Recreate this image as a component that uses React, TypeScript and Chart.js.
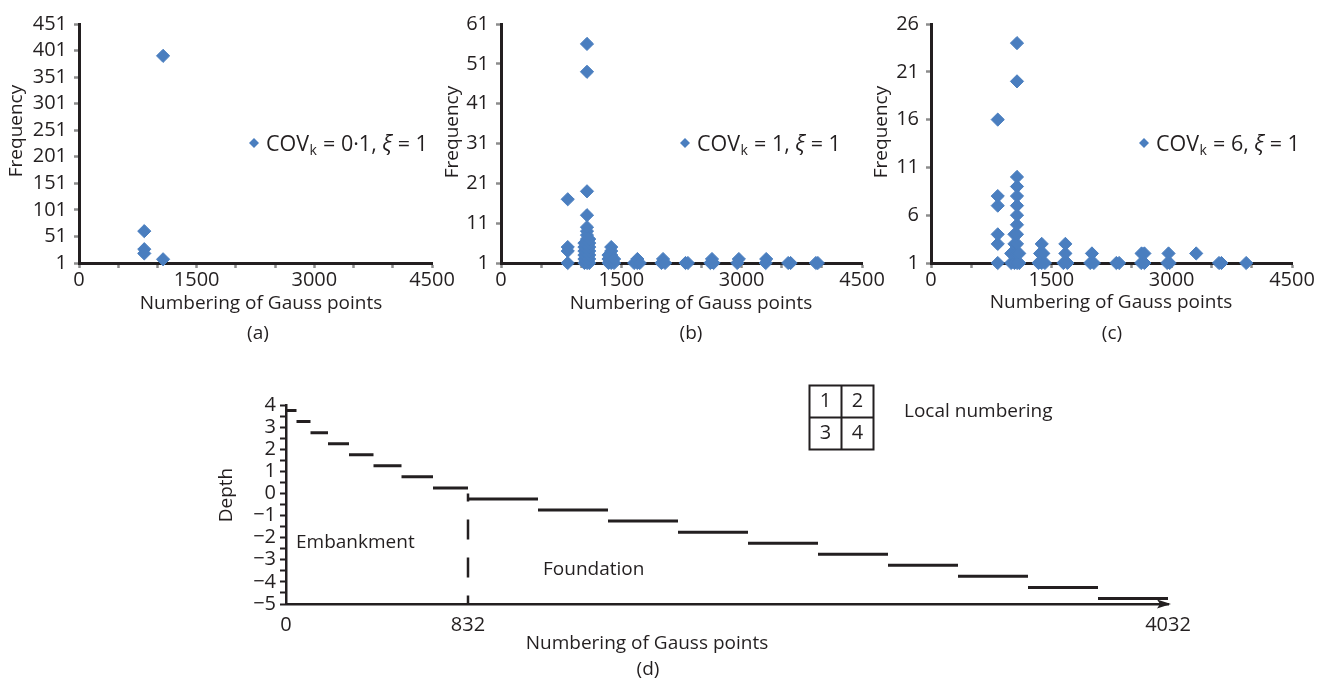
import React, { useEffect, useRef } from 'react';
import { Chart, registerables } from 'chart.js';

Chart.register(...registerables);

const FONT = '"Open Sans", "DejaVu Sans", sans-serif';
const INK = '#231F20';
const TICK_GREY = '#8C8C8C';
const MARKER = '#4A7EBF';

// Gauss-point numbering axis shared by panels (a)–(c)
const gaussTicks = [0, 500, 1000, 1500, 2000, 2500, 3000, 3500, 4000, 4500];
const gaussLabels = [0, 1500, 3000, 4500];

// (a) COV_k = 0·1
const gaussA = [832, 832, 832, 1072, 1072];
const freqA = [61, 27, 19, 391, 8];
const freqTicksA = [1, 51, 101, 151, 201, 251, 301, 351, 401, 451];

// (b) COV_k = 1
const gaussB = [
  832, 832, 832, 832,
  1072, 1072, 1072, 1072, 1072, 1072, 1072, 1072, 1072, 1072, 1072, 1072, 1072, 1072,
  1040, 1040, 1040, 1040, 1040, 1040,
  1100, 1100, 1100, 1100, 1100, 1100, 1100,
  1340, 1340, 1340, 1374, 1374, 1374, 1374, 1374, 1410, 1410,
  1660, 1700, 1700, 1730,
  2000, 2020, 2045,
  2300, 2330,
  2610, 2630, 2650,
  2945, 2965,
  3300, 3306,
  3580, 3610,
  3925, 3950,
];
const freqB = [
  1, 4, 5, 17,
  1, 2, 3, 4, 5, 6, 7, 8, 9, 10, 13, 19, 49, 56,
  1, 2, 3, 4, 5, 6,
  1, 2, 3, 4, 5, 6, 7,
  1, 2, 3, 1, 2, 3, 4, 5, 1, 2,
  1, 1, 2, 1,
  1, 2, 1,
  1, 1,
  1, 2, 1,
  1, 2,
  1, 2,
  1, 1,
  1, 1,
];
const freqTicksB = [1, 11, 21, 31, 41, 51, 61];

// (c) COV_k = 6
const gaussC = [
  832, 832, 832, 832, 832, 832,
  1000, 1000,
  1040, 1040, 1040, 1040,
  1072, 1072, 1072, 1072, 1072, 1072, 1072, 1072, 1072, 1072, 1072, 1072,
  1100, 1100,
  1340, 1380, 1420, 1360, 1400, 1380,
  1650, 1700, 1675, 1675,
  1985, 2030, 2006,
  2310, 2345,
  2620, 2660, 2625, 2660,
  2945, 2975, 2961,
  3306,
  3590, 3620,
  3929,
];
const freqC = [
  1, 3, 4, 7, 8, 16,
  1, 2,
  1, 2, 3, 4,
  1, 2, 3, 4, 5, 6, 7, 8, 9, 10, 20, 24,
  1, 2,
  1, 1, 1, 2, 2, 3,
  1, 1, 2, 3,
  1, 1, 2,
  1, 1,
  1, 1, 2, 2,
  1, 1, 2,
  2,
  1, 1,
  1,
];
const freqTicksC = [1, 6, 11, 16, 21, 26];

// (d) layer-by-layer depth of the Gauss points
const layerBounds = [0, 48, 112, 192, 288, 400, 528, 672, 832, 1152, 1472, 1792, 2112, 2432, 2752, 3072, 3392, 3712, 4032];
const layerDepth = [3.75, 3.25, 2.75, 2.25, 1.75, 1.25, 0.75, 0.25, -0.25, -0.75, -1.25, -1.75, -2.25, -2.75, -3.25, -3.75, -4.25, -4.75];
const embankmentEnd = 832;
const depthTicks = [-5, -4.5, -4, -3.5, -3, -2.5, -2, -1.5, -1, -0.5, 0, 0.5, 1, 1.5, 2, 2.5, 3, 3.5, 4];
const depthLabels = [-5, -4, -3, -2, -1, 0, 1, 2, 3, 4];
const gaussTicksD = [0, 832, 4032];

type Area = { left: number; top: number; right: number; bottom: number };
type Caption = { text: string; x: number; y: number; size?: number; align?: CanvasTextAlign; vertical?: boolean };

type FreqPanel = {
  left: number;
  width: number;
  height: number;
  area: Area;
  gauss: number[];
  freq: number[];
  freqTicks: number[];
  cov: string;
  legendAt: [number, number];
  captions: Caption[];
};

function drawCaptions(ctx: CanvasRenderingContext2D, captions: Caption[]) {
  for (const c of captions) {
    ctx.save();
    ctx.fillStyle = INK;
    ctx.font = `${c.size ?? 19}px ${FONT}`;
    ctx.textAlign = c.align ?? 'center';
    ctx.textBaseline = 'middle';
    ctx.translate(c.x, c.y);
    if (c.vertical) ctx.rotate(-Math.PI / 2);
    ctx.fillText(c.text, 0, 0);
    ctx.restore();
  }
}

function drawCovLegend(ctx: CanvasRenderingContext2D, x: number, y: number, cov: string) {
  ctx.save();
  const r = 5;
  ctx.fillStyle = MARKER;
  ctx.beginPath();
  ctx.moveTo(x - r, y);
  ctx.lineTo(x, y - r);
  ctx.lineTo(x + r, y);
  ctx.lineTo(x, y + r);
  ctx.closePath();
  ctx.fill();

  ctx.fillStyle = INK;
  ctx.textAlign = 'left';
  ctx.textBaseline = 'alphabetic';
  const base = y + 7.5;
  const big = `21.5px ${FONT}`;
  let cx = x + 12;
  ctx.font = big;
  ctx.fillText('COV', cx, base);
  cx += ctx.measureText('COV').width;
  ctx.font = `14px ${FONT}`;
  ctx.fillText('k', cx + 0.5, base + 4);
  cx += ctx.measureText('k').width + 1;
  ctx.font = big;
  const mid = ` = ${cov}, `;
  ctx.fillText(mid, cx, base);
  cx += ctx.measureText(mid).width;
  ctx.font = `italic 22px ${FONT}`;
  ctx.fillText('\u03BE', cx, base);
  cx += ctx.measureText('\u03BE').width;
  ctx.font = big;
  ctx.fillText(' = 1', cx, base);
  ctx.restore();
}

function frequencyConfig(p: FreqPanel): any {
  const xHeight = 40;
  return {
    type: 'scatter',
    data: {
      datasets: [
        {
          label: `COVk = ${p.cov}, \u03BE = 1`,
          data: p.gauss.map((g, i) => ({ x: g, y: p.freq[i] })),
          pointStyle: 'rectRot',
          pointRadius: 6.6,
          pointHoverRadius: 6.6,
          backgroundColor: MARKER,
          borderColor: MARKER,
          borderWidth: 1,
          clip: false,
        },
      ],
    },
    options: {
      responsive: false,
      animation: false,
      devicePixelRatio: 1,
      events: [],
      layout: {
        padding: {
          left: 0,
          top: p.area.top,
          right: p.width - p.area.right,
          bottom: p.height - p.area.bottom - xHeight,
        },
      },
      plugins: { legend: { display: false }, tooltip: { enabled: false } },
      scales: {
        x: {
          type: 'linear',
          min: gaussTicks[0],
          max: gaussTicks[gaussTicks.length - 1],
          afterFit: (s: any) => { s.height = xHeight; },
          afterBuildTicks: (s: any) => { s.ticks = gaussTicks.map((v) => ({ value: v })); },
          ticks: {
            autoSkip: false,
            maxRotation: 0,
            padding: 0,
            color: INK,
            font: { family: FONT, size: 20 },
            callback: (v: number) => (gaussLabels.includes(v) ? String(v) : ''),
          },
          grid: { drawOnChartArea: false, drawTicks: true, tickLength: 5, tickColor: TICK_GREY, tickWidth: 2.5 },
          border: { display: true, color: INK, width: 3 },
        },
        y: {
          type: 'linear',
          min: p.freqTicks[0],
          max: p.freqTicks[p.freqTicks.length - 1],
          afterFit: (s: any) => { s.width = p.area.left; },
          afterBuildTicks: (s: any) => { s.ticks = p.freqTicks.map((v) => ({ value: v })); },
          ticks: {
            autoSkip: false,
            padding: 7,
            color: INK,
            font: { family: FONT, size: 20 },
            callback: (v: number) => String(v),
          },
          grid: { drawOnChartArea: false, drawTicks: true, tickLength: 5, tickColor: TICK_GREY, tickWidth: 2.5 },
          border: { display: true, color: INK, width: 3 },
        },
      },
    },
    plugins: [
      {
        id: 'panelText',
        afterDraw(chart: any) {
          const ctx = chart.ctx as CanvasRenderingContext2D;
          drawCaptions(ctx, p.captions);
          drawCovLegend(ctx, p.legendAt[0], p.legendAt[1], p.cov);
        },
      },
    ],
  };
}

const depthArea: Area = { left: 86, top: 25, right: 968, bottom: 224 };
const depthCanvas = { left: 200, top: 380, width: 1132, height: 298 };

function depthConfig(): any {
  const xHeight = 40;
  const steps = layerDepth.flatMap((d, i) => [
    { x: layerBounds[i], y: d },
    { x: layerBounds[i + 1], y: d },
    { x: layerBounds[i + 1], y: null },
  ]);
  const captions: Caption[] = [
    { text: 'Depth', x: 27, y: 115, vertical: true },
    { text: 'Numbering of Gauss points', x: 447, y: 264 },
    { text: '(d)', x: 448, y: 290 },
    { text: 'Embankment', x: 96, y: 163, align: 'left' },
    { text: 'Foundation', x: 343, y: 190, align: 'left' },
    { text: 'Local numbering', x: 704, y: 32, align: 'left' },
  ];
  return {
    type: 'scatter',
    data: {
      datasets: [
        {
          label: 'Layer depth',
          data: steps,
          showLine: true,
          spanGaps: false,
          pointRadius: 0,
          borderColor: INK,
          borderWidth: 3,
          borderCapStyle: 'butt',
          clip: false,
        },
        {
          label: 'Embankment / foundation',
          data: [
            { x: embankmentEnd, y: 0 },
            { x: embankmentEnd, y: depthTicks[0] },
          ],
          showLine: true,
          pointRadius: 0,
          borderColor: INK,
          borderWidth: 2.5,
          borderDash: [20, 18],
          borderDashOffset: 12,
          borderCapStyle: 'butt',
          clip: false,
        },
      ],
    },
    options: {
      responsive: false,
      animation: false,
      devicePixelRatio: 1,
      events: [],
      layout: {
        padding: {
          left: 0,
          top: depthArea.top,
          right: depthCanvas.width - depthArea.right,
          bottom: depthCanvas.height - depthArea.bottom - xHeight,
        },
      },
      plugins: { legend: { display: false }, tooltip: { enabled: false } },
      scales: {
        x: {
          type: 'linear',
          min: gaussTicksD[0],
          max: gaussTicksD[gaussTicksD.length - 1],
          afterFit: (s: any) => { s.height = xHeight; },
          afterBuildTicks: (s: any) => { s.ticks = gaussTicksD.map((v) => ({ value: v })); },
          ticks: {
            autoSkip: false,
            maxRotation: 0,
            padding: 9,
            color: INK,
            font: { family: FONT, size: 20 },
            callback: (v: number) => String(v),
          },
          grid: { drawOnChartArea: false, drawTicks: false },
          border: { display: true, color: INK, width: 2.5 },
        },
        y: {
          type: 'linear',
          min: depthTicks[0],
          max: depthTicks[depthTicks.length - 1],
          afterFit: (s: any) => { s.width = depthArea.left; },
          afterBuildTicks: (s: any) => { s.ticks = depthTicks.map((v) => ({ value: v })); },
          ticks: {
            autoSkip: false,
            padding: 4,
            color: INK,
            font: { family: FONT, size: 20 },
            callback: (v: number) => (depthLabels.includes(v) ? String(v).replace('-', '\u2212') : ''),
          },
          grid: { drawOnChartArea: false, drawTicks: true, tickLength: 6, tickColor: INK, tickWidth: 2 },
          border: { display: true, color: INK, width: 2.5 },
        },
      },
    },
    plugins: [
      {
        id: 'depthDecor',
        afterDraw(chart: any) {
          const ctx = chart.ctx as CanvasRenderingContext2D;
          const { right, bottom } = chart.chartArea;
          // arrowhead on the numbering axis
          ctx.save();
          ctx.fillStyle = INK;
          ctx.beginPath();
          ctx.moveTo(right + 3, bottom);
          ctx.lineTo(right - 11, bottom - 4.5);
          ctx.lineTo(right - 8, bottom);
          ctx.lineTo(right - 11, bottom + 4.5);
          ctx.closePath();
          ctx.fill();

          // 2 x 2 local numbering key
          const bx = 609.5;
          const by = 5.5;
          const bs = 64;
          ctx.strokeStyle = INK;
          ctx.lineWidth = 2;
          ctx.strokeRect(bx, by, bs, bs);
          ctx.beginPath();
          ctx.moveTo(bx + bs / 2, by);
          ctx.lineTo(bx + bs / 2, by + bs);
          ctx.moveTo(bx, by + bs / 2);
          ctx.lineTo(bx + bs, by + bs / 2);
          ctx.stroke();
          ctx.font = `20px ${FONT}`;
          ctx.textAlign = 'center';
          ctx.textBaseline = 'middle';
          ['1', '2', '3', '4'].forEach((t, i) => {
            const cx = bx + bs / 4 + (i % 2) * (bs / 2);
            const cy = by + bs / 4 + Math.floor(i / 2) * (bs / 2);
            ctx.fillText(t, cx, cy);
          });
          ctx.restore();
          drawCaptions(ctx, captions);
        },
      },
    ],
  };
}

const panels: FreqPanel[] = [
  {
    left: 0, width: 470, height: 350,
    area: { left: 79, top: 24, right: 432, bottom: 263 },
    gauss: gaussA, freq: freqA, freqTicks: freqTicksA, cov: '0\u00B71',
    legendAt: [254, 143],
    captions: [
      { text: 'Frequency', x: 17, y: 131, vertical: true },
      { text: 'Numbering of Gauss points', x: 261, y: 304 },
      { text: '(a)', x: 258, y: 334 },
    ],
  },
  {
    left: 430, width: 470, height: 350,
    area: { left: 71, top: 24, right: 432, bottom: 263 },
    gauss: gaussB, freq: freqB, freqTicks: freqTicksB, cov: '1',
    legendAt: [255, 143],
    captions: [
      { text: 'Frequency', x: 23, y: 132, vertical: true },
      { text: 'Numbering of Gauss points', x: 261, y: 304 },
      { text: '(b)', x: 261, y: 334 },
    ],
  },
  {
    left: 860, width: 472, height: 350,
    area: { left: 71, top: 24, right: 432, bottom: 263 },
    gauss: gaussC, freq: freqC, freqTicks: freqTicksC, cov: '6',
    legendAt: [284, 143],
    captions: [
      { text: 'Frequency', x: 22, y: 132, vertical: true },
      { text: 'Numbering of Gauss points', x: 251, y: 303 },
      { text: '(c)', x: 252, y: 334 },
    ],
  },
];

function ChartCanvas(props: { left: number; top: number; width: number; height: number; build: () => any }) {
  const ref = useRef<HTMLCanvasElement>(null);
  useEffect(() => {
    const chart = new Chart(ref.current as HTMLCanvasElement, props.build());
    return () => chart.destroy();
  }, []);
  return (
    <canvas
      ref={ref}
      width={props.width}
      height={props.height}
      style={{ position: 'absolute', left: props.left, top: props.top, width: props.width, height: props.height }}
    />
  );
}

export default function App() {
  return (
    <div style={{ position: 'absolute', left: 0, top: 0, width: 1332, height: 678, overflow: 'hidden', background: '#fff' }}>
      {panels.map((p, i) => (
        <ChartCanvas key={i} left={p.left} top={0} width={p.width} height={p.height} build={() => frequencyConfig(p)} />
      ))}
      <ChartCanvas
        left={depthCanvas.left}
        top={depthCanvas.top}
        width={depthCanvas.width}
        height={depthCanvas.height}
        build={depthConfig}
      />
    </div>
  );
}
